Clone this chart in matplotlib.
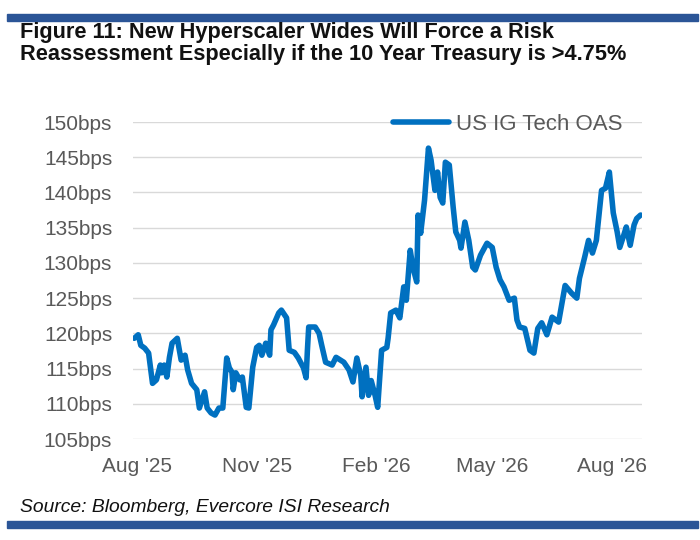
import numpy as np
import matplotlib
matplotlib.use('Agg')
import matplotlib.pyplot as plt
import matplotlib.dates as mdates
from matplotlib.ticker import FuncFormatter, MultipleLocator

# Plotting parameters
plt.rcParams['font.family'] = ['Liberation Sans', 'DejaVu Sans']

# Data: days since 1 Aug 2025 and the spread
base_date = np.datetime64('2025-08-01')
day_offsets = [
    -2, 1, 3, 6, 9, 12, 15, 18, 19, 21, 23, 25, 27, 31, 33, 34, 37, 39, 42, 46,
    48, 52, 54, 57, 60, 63, 66, 69, 71, 73, 74, 76, 79, 81, 84, 86, 89, 92, 94, 96,
    99, 102, 103, 105, 109, 111, 115, 117, 121, 124, 128, 130, 131, 132, 137, 140, 142, 145, 150, 153,
    159, 163, 166, 169, 172, 173, 176, 178, 180, 183, 185, 188, 192, 193, 195, 199, 202, 205, 207, 210,
    212, 215, 216, 218, 221, 224, 226, 229, 231, 233, 235, 237, 240, 243, 245, 248, 249, 252, 255, 258,
    260, 264, 269, 273, 276, 279, 282, 286, 290, 292, 294, 298, 302, 305, 308, 311, 315, 319, 324, 329,
    334, 338, 340, 344, 347, 350, 353, 357, 360, 363, 366, 369, 371, 374, 376, 379, 382, 384, 387,
]
oas_bps = [
    119.3, 119.8, 118.3, 117.9, 117.2, 112.9, 113.4, 115.5, 114.4, 115.5, 113.8, 116.6, 118.6, 119.3, 117.2, 116.2, 116.9, 114.8, 112.9, 112.0,
    109.4, 111.7, 109.4, 108.7, 108.4, 109.4, 109.4, 116.5, 115.1, 114.5, 112.0, 114.4, 113.4, 113.8, 109.5, 109.4, 115.2, 118.0, 118.3, 116.9,
    118.6, 116.9, 120.5, 121.2, 122.9, 123.3, 122.2, 117.6, 117.3, 116.5, 115.1, 113.7, 117.6, 120.9, 120.9, 120.0, 118.3, 115.9, 115.5, 116.6,
    115.9, 114.8, 113.1, 116.5, 114.0, 111.0, 115.2, 111.2, 113.3, 111.2, 109.5, 117.6, 118.0, 119.3, 122.9, 123.3, 122.2, 126.6, 124.7, 131.8,
    129.4, 127.3, 136.8, 134.2, 138.9, 146.3, 144.6, 140.3, 142.9, 139.3, 138.5, 144.3, 143.9, 137.9, 134.4, 133.2, 132.1, 135.8, 133.2, 129.4,
    129.0, 131.1, 132.8, 132.2, 129.4, 127.6, 126.6, 124.7, 125.0, 121.9, 120.9, 120.7, 117.6, 117.2, 120.7, 121.5, 119.8, 122.3, 121.6, 126.8,
    125.7, 125.0, 127.8, 130.8, 133.2, 131.4, 133.2, 140.3, 140.6, 142.9, 137.1, 134.4, 132.2, 133.9, 135.1, 132.5, 135.4, 136.3, 136.8,
]
series_label = 'US IG Tech OAS'
tick_months = [2, 5, 8, 11]

dates = base_date + np.array(day_offsets).astype('timedelta64[D]')

fig = plt.figure(figsize=(7, 5.4), dpi=100)
ax = fig.add_axes([0.19, 0.187, 0.727, 0.587])

ax.plot(dates, oas_bps, color='#0070C0', lw=4.0, solid_joinstyle='round',
        solid_capstyle='round', label=series_label)

ax.set_ylim(105, 150)
ax.set_xlim(base_date - np.timedelta64(3, 'D'), base_date + np.timedelta64(388, 'D'))
ax.yaxis.set_major_locator(MultipleLocator(5))
ax.yaxis.set_major_formatter(FuncFormatter(lambda v, p: f'{v:.0f}bps'))
ax.xaxis.set_major_locator(mdates.MonthLocator(bymonth=tick_months))
ax.xaxis.set_major_formatter(mdates.DateFormatter("%b '%y"))

ax.grid(axis='y', color='#D9D9D9', lw=1.0)
ax.set_axisbelow(True)
for s in ax.spines.values():
    s.set_visible(False)
ax.tick_params(length=0, labelsize=15, colors='#595959')
ax.tick_params(axis='y', pad=15)
ax.tick_params(axis='x', pad=13)

leg = ax.legend(loc='center right', bbox_to_anchor=(622 / 700, 1 - 124 / 540),
                bbox_transform=fig.transFigure, frameon=False, fontsize=16,
                handlelength=2.5, handletextpad=0.3, borderpad=0, borderaxespad=0)
for t in leg.get_texts():
    t.set_color('#595959')

# Frame bars, title and source
bar_color = '#2B5597'
fig.patches.append(plt.Rectangle((7 / 700, 1 - 21 / 540), 691 / 700, 7 / 540,
                                 transform=fig.transFigure, color=bar_color))
fig.patches.append(plt.Rectangle((7 / 700, 1 - 528 / 540), 691 / 700, 7 / 540,
                                 transform=fig.transFigure, color=bar_color))
fig.text(20 / 700, 1 - 43.5 / 540,
         'Figure 11: New Hyperscaler Wides Will Force a Risk\n'
         'Reassessment Especially if the 10 Year Treasury is >4.75%',
         fontsize=15.7, fontweight='bold', color='#111111', va='center',
         linespacing=1.05)
fig.text(20 / 700, 1 - 508 / 540, 'Source: Bloomberg, Evercore ISI Research',
         fontsize=13.9, style='italic', color='#111111', va='center')

fig.savefig('out.png', dpi=100)
